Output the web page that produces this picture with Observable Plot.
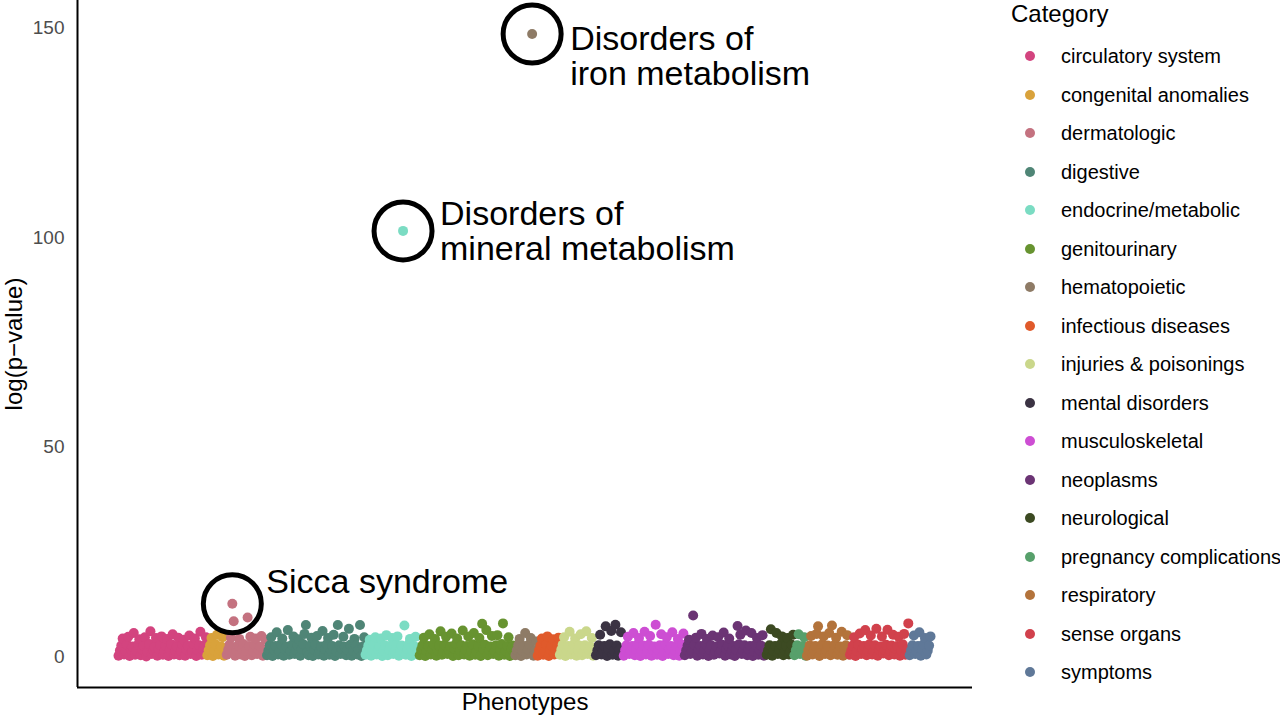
<!DOCTYPE html>
<html>
<head>
<meta charset="utf-8">
<script src="https://cdn.jsdelivr.net/npm/d3@7"></script>
<script src="https://cdn.jsdelivr.net/npm/@observablehq/plot@0.6"></script>
<style>
  html, body { margin: 0; padding: 0; background: #fff; }
  #wrap { position: relative; width: 1280px; height: 721px; overflow: hidden; font-family: "Liberation Sans", Arial, Helvetica, sans-serif; }
  #chart { position: absolute; left: 0; top: 0; }
  [aria-label="y-axis tick label"] { fill: #4d4d4d; }
  .lg-title { position: absolute; left: 1011px; top: 0px; font-size: 24px; line-height: 28px; color: #000; white-space: nowrap; }
  .lg-dot { position: absolute; width: 10px; height: 10px; border-radius: 50%; }
  .lg-text { position: absolute; left: 1061px; font-size: 20px; line-height: 24px; color: #000; white-space: nowrap; }
</style>
</head>
<body>
<div id="wrap"><div id="chart"></div></div>
<script>
// ---- Data ----
const categories = [
  "circulatory system", "congenital anomalies", "dermatologic", "digestive",
  "endocrine/metabolic", "genitourinary", "hematopoietic", "infectious diseases",
  "injuries & poisonings", "mental disorders", "musculoskeletal", "neoplasms",
  "neurological", "pregnancy complications", "respiratory", "sense organs", "symptoms"
];
const palette = [
  "#d3447f", "#d9a23b", "#c47280", "#4f8576", "#7bdcc3", "#679330", "#8e7b66", "#e05a2b",
  "#cad78b", "#3b3343", "#cd4ed3", "#6b3474", "#3c4a22", "#57a06b", "#b3733b", "#d1414c", "#5f7898"
];

// -log10(p) per phenotype, in plotting order within each category
const circulatory = [0.2,1.4,2.6,4.3, 0.5,1.2,2.9,4.7, 0.1,1.6,2.4,5.6, 0.4,1.3,2.8,4.1, 0.3,1.7,2.5,4.6, 0.0,1.1,3.0,6.0, 0.6,1.5,2.3,4.4, 0.2,1.8,2.7,4.8, 0.4,1.2,2.6,4.2, 0.1,1.6,2.9,5.3, 0.5,1.4,2.4,4.5, 0.3,1.3,2.8,4.0, 0.2,1.7,2.5,5.0, 0.6,1.1,3.0,4.3, 0.1,1.5,2.7,5.9, 0.4,1.6,2.6,4.6];
const congenital = [0.3,1.5,2.7,4.4, 0.1,1.3,2.9,5.2, 0.5,1.7,2.4,4.6, 0.2,1.4];
const dermatologic = [0.4,1.6,2.8,4.5, 12.6, 8.4, 0.2,1.3,2.6,4.2, 0.5,1.7,3.0,0.1,1.4, 9.3, 2.5,4.7, 0.3,1.2,2.8,4.3, 0.6,1.5,2.4,4.9, 0.2,1.6,4.0];
const digestive = [0.3,1.4,2.7,4.6, 0.1,1.6,2.5,5.8, 0.5,1.2,2.9,4.3, 0.2,1.7,2.4,6.3, 0.4,1.3,2.8,4.8, 0.6,1.5,2.6,4.1, 0.2,1.8,3.0,5.4, 7.5,1.1,0.3,2.6, 4.5,0.1,1.6,2.8, 4.9,0.5,1.3,2.4, 6.1,0.2,1.7,2.9, 4.4,0.4,1.4,2.5, 5.2,0.1,1.2,7.5, 2.7,0.6,1.8,4.7, 2.3,0.3,1.5,6.6, 2.8,0.2,1.3,4.2, 2.6,0.5,1.6,7.5, 0.1,2.4,4.6];
const endocrine = [0.4,1.5,2.6,4.0, 0.2,1.3,2.9,4.6, 0.5,1.7,2.4,4.3, 0.1,1.4,2.7,5.1, 0.3,1.6,2.5,4.4, 0.6,1.2,2.8,4.8, 0.2,1.5,2.6,101.6, 7.4,0.4,1.8,2.9, 4.2,0.1,1.3,2.5, 4.7,0.5,1.6];
const genitourinary = [0.3,1.6,2.7,4.5, 0.1,1.3,2.5,5.3, 0.5,1.7,2.9,4.2, 0.2,1.4,2.6,6.0, 0.4,1.2,2.8,4.7, 0.6,1.5,2.4,5.5, 0.1,1.8,3.0,4.3, 0.3,1.3,2.7,6.2, 0.5,1.6,2.5,4.8, 0.2,1.4,2.9,5.6, 0.4,1.1,2.6,4.4, 0.1,7.8,1.7,2.8, 6.3,0.3,1.5,2.4, 4.9,0.6,1.2,2.7, 5.1,0.2,1.6,3.0, 7.9,0.4,1.4,2.5, 4.6,0.1,1.8,2.6, 0.5];
const hematopoietic = [0.3,1.5,2.7,4.2, 0.1,1.3,2.5,5.6, 0.5,1.7,2.9,4.4, 148.6, 0.2,1.4,3.6];
const infectious = [0.2,1.5,2.6,4.3, 0.4,1.2,2.9,4.8, 0.1,1.7,2.5,4.1, 0.5,1.4,2.7,4.5];
const injuries = [0.4,1.6,2.8,4.6, 0.1,1.3,2.5,5.9, 0.5,1.7,2.9,4.3, 0.2,1.4,2.6,5.3, 0.3,1.2,2.7,6.0, 0.6,1.5,2.4,4.4, 0.2,1.6];
const mental = [0.3,1.5,2.7,5.2, 0.5,1.3,2.5,7.2, 0.1,1.7,2.9,6.1, 0.4,1.4,7.6,2.6, 0.2,1.6,5.8,0.5];
const musculoskeletal = [0.2,1.5,2.7,4.7, 0.6,1.3,2.5,5.6, 0.3,1.7,2.9,4.4, 0.1,1.4,2.6,5.9, 0.5,1.2,2.8,4.9, 0.2,1.6,2.4,7.6, 0.4,1.5,2.7,5.3, 0.1,1.3,2.9,4.6, 0.6,1.7,2.5,5.8, 0.3,1.4,2.6,4.2, 0.2,1.6,2.8,5.5];
const neoplasms = [0.3,1.5,2.6,4.0, 0.6,1.3,9.8,2.8, 4.5,0.2,1.7,2.5, 5.4,0.5,1.4,2.9, 4.2,0.1,1.6,2.7, 5.0,0.4,1.2,2.4, 4.6,0.7,1.5,2.8, 5.7,0.2,1.8,2.6, 4.3,0.5,1.3,2.5, 0.1,1.6,7.3,2.9, 5.2,0.6,1.4,2.7, 6.2,0.3,1.7,2.5, 5.6,0.1,1.2,2.8, 4.4,0.4,1.5,2.6, 5.1,0.2,1.6];
const neurological = [0.4,1.5,2.7,6.5, 0.2,1.3,2.5,5.6, 0.6,1.7,2.9,4.8, 0.3,1.4,2.6,4.4, 0.5,1.2,2.8,5.2];
const pregnancy = [0.3,1.5,2.7,5.3, 0.6,1.3,2.5,4.6, 0.2];
const respiratory = [0.2,1.5,2.7,4.9, 0.5,1.3,2.5,5.4, 7.2,0.1,1.7,2.9, 4.8,0.6,1.4,2.6, 5.6,0.3,7.4,1.2, 2.8,4.5,0.4,1.6, 2.4,5.9,0.2,1.5, 2.7,5.1,0.5];
const senseOrgans = [0.4,1.5,2.6,4.6, 0.1,1.3,2.8,5.5, 0.6,1.7,2.5,6.3, 0.3,1.4,2.9,5.0, 0.5,1.2,2.7,6.6, 0.2,1.6,2.4,4.8, 0.7,1.5,2.8,6.4, 0.3,1.3,2.6,5.2, 0.5,1.8,2.5,4.7, 0.2,1.4,2.9,5.4, 0.4,1.6,7.9];
const symptoms = [0.3,1.5,2.7,5.0, 0.6,1.3,2.5,5.8, 0.2,1.7,2.9,4.4, 0.5,1.4,2.6,4.8];

const seriesValues = [circulatory, congenital, dermatologic, digestive, endocrine, genitourinary,
  hematopoietic, infectious, injuries, mental, musculoskeletal, neoplasms, neurological,
  pregnancy, respiratory, senseOrgans, symptoms];

// annotated phenotypes: category + position within that category
const annotationCategories = ["hematopoietic", "endocrine/metabolic", "dermatologic"];
const annotationPositions = [12, 27, 4];
const annotationLabels = ["Disorders of\niron metabolism", "Disorders of\nmineral metabolism", "Sicca syndrome"];

const yTicks = [0, 50, 100, 150];

// ---- Build table ----
const table = [];
let idx = 0;
categories.forEach((c, k) => {
  seriesValues[k].forEach((v, j) => table.push({idx: idx++, category: c, value: v, pos: j}));
});
const N = table.length;
const annots = annotationCategories.map((c, i) => {
  const row = table.find(d => d.category === c && d.pos === annotationPositions[i]);
  return {...row, label: annotationLabels[i]};
});

// x domain: pad so the points sit inside the axis frame like the reference
const step = 812 / (N - 1);
const xDomain = [-41 / step, (N - 1) + 42 / step];
const yDomain = [-7.4, 156.6];

const font = "Liberation Sans, Arial, Helvetica, sans-serif";

const chart = Plot.plot({
  width: 1000,
  height: 721,
  marginLeft: 77,
  marginRight: 28,
  marginTop: 0,
  marginBottom: 34,
  style: {fontFamily: font, background: "white", overflow: "visible"},
  x: {domain: xDomain, axis: null},
  y: {domain: yDomain, axis: null},
  color: {domain: categories, range: palette},
  marks: [
    Plot.axisY({ticks: yTicks, tickSize: 0, tickPadding: 13, fontSize: 19, label: null}),
    Plot.dot(table, {x: "idx", y: "value", fill: "category", r: 5}),
    Plot.ruleX([xDomain[0]], {stroke: "black", strokeWidth: 2}),
    Plot.ruleY([yDomain[0]], {stroke: "black", strokeWidth: 2}),
    Plot.dot(annots, {x: "idx", y: "value", r: 29, stroke: "black", strokeWidth: 5, fill: "none"}),
    Plot.text(annots.slice(0, 1), {x: "idx", y: "value", text: "label", textAnchor: "start", lineAnchor: "middle", lineHeight: 1.03, dx: 38, dy: 22, fontSize: 34, fill: "black"}),
    Plot.text(annots.slice(1, 2), {x: "idx", y: "value", text: "label", textAnchor: "start", lineAnchor: "middle", lineHeight: 1.03, dx: 37, dy: 0, fontSize: 34, fill: "black"}),
    Plot.text(annots.slice(2, 3), {x: "idx", y: "value", text: "label", textAnchor: "start", lineAnchor: "middle", dx: 34, dy: -22, fontSize: 34, fill: "black"}),
    Plot.text(["log(p−value)"], {frameAnchor: "left", textAnchor: "middle", rotate: -90, dx: -63, fontSize: 24, fill: "black"}),
    Plot.text(["Phenotypes"], {frameAnchor: "bottom", dy: 22, fontSize: 24, fill: "black"})
  ]
});
document.getElementById("chart").appendChild(chart);

// ---- Legend ----
const wrap = document.getElementById("wrap");
const title = document.createElement("div");
title.className = "lg-title";
title.textContent = "Category";
wrap.appendChild(title);
categories.forEach((c, k) => {
  const cy = 56 + k * 38.5;
  const dot = document.createElement("div");
  dot.className = "lg-dot";
  dot.style.left = (1030 - 5) + "px";
  dot.style.top = (cy - 5) + "px";
  dot.style.background = palette[k];
  wrap.appendChild(dot);
  const t = document.createElement("div");
  t.className = "lg-text";
  t.style.top = (cy - 12) + "px";
  t.textContent = c;
  wrap.appendChild(t);
});
</script>
</body>
</html>
